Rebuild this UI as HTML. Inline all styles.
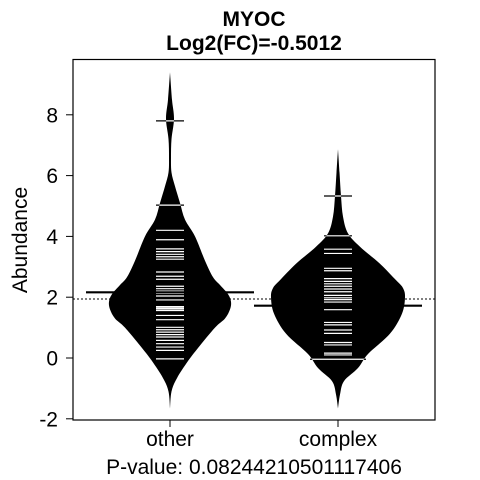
<!DOCTYPE html>
<html><head><meta charset="utf-8"><style>
html,body{margin:0;padding:0;background:#fff}
svg{display:block;font-family:"Liberation Sans",Arial,sans-serif}
</style></head><body>
<svg id="chart" width="480" height="480" viewBox="0 0 480 480">
<rect x="0" y="0" width="480" height="480" fill="#fff"/>
<g id="marks"></g>
<rect x="73" y="59.5" width="362" height="360.5" fill="none" stroke="#000" stroke-width="1.2"/>
<g id="axes"></g>
<text x="254" y="26" text-anchor="middle" font-size="21" font-weight="bold">MYOC</text>
<text x="254" y="50" text-anchor="middle" font-size="21" font-weight="bold">Log2(FC)=-0.5012</text>
<text x="254" y="474" text-anchor="middle" font-size="21">P-value: 0.08244210501117406</text>
<text transform="translate(27,240) rotate(-90)" text-anchor="middle" font-size="21">Abundance</text>
</svg>
<script>
const categories = ["other","complex"];
const yTicks = [-2,0,2,4,6,8];
const otherDensV = [-1.66,-1.1,-0.66,-0.1,0.33,1.0,1.3,1.6,1.85,2.1,2.4,2.66,3.2,4.0,4.55,5.1,5.65,6.1,6.6,7.2,7.87,8.5,9.4];
const otherDensW = [0,1.5,7,18,28,45,55,60,61,58,50,43,35,25,15,10,5,1.5,1,1.5,4,2,0];
const complexDensV = [-1.66,-1.2,-0.76,-0.33,0.13,0.8,1.46,2.0,2.3,2.56,3.1,3.66,4.1,4.65,5.33,6.1,6.87];
const complexDensW = [0,2,6,20,30,52,64,67,65,58,42,22,10,5,3,1.5,0];
const otherObs = [7.8,5.03,4.2,3.89,3.59,3.5,3.41,3.33,3.25,2.83,2.69,2.59,2.36,2.28,2.2,2.13,2.04,1.91,1.69,1.65,1.61,1.56,1.4,1.26,1.01,0.93,0.85,0.77,0.69,0.58,0.47,0.36,0.25,-0.03];
const complexObs = [5.33,4.02,3.58,3.44,2.95,2.87,2.61,2.52,2.44,2.36,2.27,2.18,2.06,1.98,1.92,1.84,1.59,1.17,1.09,0.92,0.81,0.51,0.43,0.16,0.1,-0.04,-0.04];
const groupMeans = [2.16,1.72];
const overallMean = 1.94;

const NS="http://www.w3.org/2000/svg";
const X0=73,X1=435;
function yScale(v){return 358-v*30.4;}
function xScale(i){return [170,338][i];}
function mk(tag,attrs,parent){const e=document.createElementNS(NS,tag);for(const k in attrs)e.setAttribute(k,attrs[k]);parent.appendChild(e);return e;}
function smooth(p){ // catmull-rom through points p=[[x,y],...]
  let d='M'+p[0][0]+','+p[0][1];
  for(let i=0;i<p.length-1;i++){
    const a=p[Math.max(0,i-1)],b=p[i],c=p[i+1],e=p[Math.min(p.length-1,i+2)];
    const c1=[b[0]+(c[0]-a[0])/6,b[1]+(c[1]-a[1])/6],c2=[c[0]-(e[0]-b[0])/6,c[1]-(e[1]-b[1])/6];
    d+=' C'+c1[0]+','+c1[1]+' '+c2[0]+','+c2[1]+' '+c[0]+','+c[1];
  }
  return d;
}
const marks=document.getElementById('marks'), axes=document.getElementById('axes');
const dens=[[otherDensV,otherDensW],[complexDensV,complexDensW]];
const obs=[otherObs,complexObs];
const defs=mk('defs',{},marks);
const ol=mk('line',{x1:X0,x2:X1,y1:yScale(overallMean),y2:yScale(overallMean),stroke:'#000','stroke-width':1,'stroke-dasharray':'2,2'},marks);


categories.forEach((c,i)=>{
  const cx=xScale(i),[V,W]=dens[i];
  const right=[],left=[];
  for(let k=0;k<V.length;k++)right.push([cx+W[k],yScale(V[k])]);
  for(let k=V.length-1;k>=0;k--)left.push([cx-W[k],yScale(V[k])]);
  const d=smooth(right)+' L'+smooth(left).slice(1)+' Z';
  const cp=mk('clipPath',{id:'clip'+i},defs);
  mk('path',{d:d},cp);
  const bean=mk('path',{d:d,fill:'#000'},marks);
  
  
  const counts={};obs[i].forEach(v=>counts[v]=(counts[v]||0)+1);
  Object.keys(counts).forEach(k=>{
    const v=+k,hw=14*counts[k],y=yScale(v);
    const bl=mk('line',{x1:cx-hw,x2:cx+hw,y1:y,y2:y,stroke:'#000','stroke-width':1.2},marks);
    
    
    const wl=mk('line',{x1:cx-hw,x2:cx+hw,y1:y,y2:y,stroke:'#fff','stroke-width':1.2,'clip-path':'url(#clip'+i+')'},marks);
    
    
  });
  const my=yScale(groupMeans[i]);
  const ml=mk('line',{x1:cx-84,x2:cx+84,y1:my,y2:my,stroke:'#000','stroke-width':2.2},marks);
  
  
  const xt=mk('line',{x1:cx,x2:cx,y1:420,y2:427,stroke:'#000','stroke-width':1},axes);
  
  
  const xl=mk('text',{x:cx,y:446,'text-anchor':'middle','font-size':21},axes);
  xl.textContent=c;
  
  
});
yTicks.forEach(t=>{
  const y=yScale(t);
  const tk=mk('line',{x1:66,x2:73,y1:y,y2:y,stroke:'#000','stroke-width':1},axes);
  
  
  const tl=mk('text',{x:58,y:y+7.5,'text-anchor':'end','font-size':21},axes);
  tl.textContent=t;
  
  
});
</script>
</body></html>
